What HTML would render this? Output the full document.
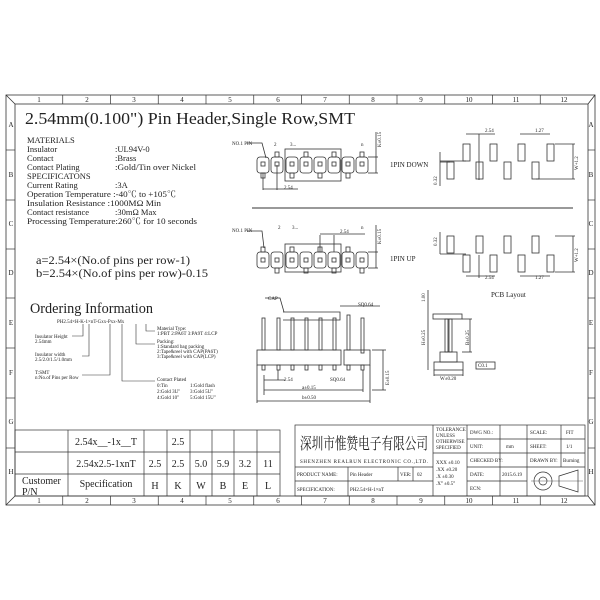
<!DOCTYPE html>
<html><head><meta charset="utf-8"><style>
html,body{margin:0;padding:0;background:#fff;}
svg{display:block;}
text{font-family:"Liberation Serif","Noto Serif CJK SC",serif;fill:#222;}
</style></head><body>
<svg width="600" height="600" viewBox="0 0 600 600" xmlns="http://www.w3.org/2000/svg">
<g fill="none" stroke="#333" stroke-width="0.8">
<rect x="6" y="95" width="589" height="410"/>
<rect x="15" y="104" width="573" height="392"/>
<line x1="6" y1="95" x2="15" y2="104"/><line x1="595" y1="95" x2="588" y2="104"/>
<line x1="6" y1="505" x2="15" y2="496"/><line x1="595" y1="505" x2="588" y2="496"/>
</g>
<g stroke="#333" stroke-width="0.7">
<line x1="62.75" y1="95" x2="62.75" y2="104"/><line x1="110.5" y1="95" x2="110.5" y2="104"/><line x1="158.25" y1="95" x2="158.25" y2="104"/><line x1="206" y1="95" x2="206" y2="104"/><line x1="253.75" y1="95" x2="253.75" y2="104"/><line x1="301.5" y1="95" x2="301.5" y2="104"/><line x1="349.25" y1="95" x2="349.25" y2="104"/><line x1="397" y1="95" x2="397" y2="104"/><line x1="444.75" y1="95" x2="444.75" y2="104"/><line x1="492.5" y1="95" x2="492.5" y2="104"/><line x1="540.25" y1="95" x2="540.25" y2="104"/>
<line x1="62.75" y1="496" x2="62.75" y2="505"/><line x1="110.5" y1="496" x2="110.5" y2="505"/><line x1="158.25" y1="496" x2="158.25" y2="505"/><line x1="206" y1="496" x2="206" y2="505"/><line x1="253.75" y1="496" x2="253.75" y2="505"/><line x1="301.5" y1="496" x2="301.5" y2="505"/><line x1="349.25" y1="496" x2="349.25" y2="505"/><line x1="397" y1="496" x2="397" y2="505"/><line x1="444.75" y1="496" x2="444.75" y2="505"/><line x1="492.5" y1="496" x2="492.5" y2="505"/><line x1="540.25" y1="496" x2="540.25" y2="505"/>
<line x1="6" y1="150" x2="15" y2="150"/><line x1="6" y1="200" x2="15" y2="200"/><line x1="6" y1="249" x2="15" y2="249"/><line x1="6" y1="298" x2="15" y2="298"/><line x1="6" y1="348" x2="15" y2="348"/><line x1="6" y1="398" x2="15" y2="398"/><line x1="6" y1="448" x2="15" y2="448"/>
<line x1="588" y1="150" x2="595" y2="150"/><line x1="588" y1="200" x2="595" y2="200"/><line x1="588" y1="249" x2="595" y2="249"/><line x1="588" y1="298" x2="595" y2="298"/><line x1="588" y1="348" x2="595" y2="348"/><line x1="588" y1="398" x2="595" y2="398"/><line x1="588" y1="448" x2="595" y2="448"/>
</g>
<g font-size="7" text-anchor="middle">
<text x="39" y="102">1</text><text x="87" y="102">2</text><text x="134" y="102">3</text><text x="182" y="102">4</text><text x="230" y="102">5</text><text x="278" y="102">6</text><text x="325" y="102">7</text><text x="373" y="102">8</text><text x="421" y="102">9</text><text x="469" y="102">10</text><text x="516" y="102">11</text><text x="564" y="102">12</text>
<text x="39" y="503">1</text><text x="87" y="503">2</text><text x="134" y="503">3</text><text x="182" y="503">4</text><text x="230" y="503">5</text><text x="278" y="503">6</text><text x="325" y="503">7</text><text x="373" y="503">8</text><text x="421" y="503">9</text><text x="469" y="503">10</text><text x="516" y="503">11</text><text x="564" y="503">12</text>
<text x="11" y="127">A</text><text x="11" y="177">B</text><text x="11" y="226">C</text><text x="11" y="275">D</text><text x="11" y="325">E</text><text x="11" y="375">F</text><text x="11" y="424">G</text><text x="11" y="474">H</text>
<text x="591" y="127">A</text><text x="591" y="177">B</text><text x="591" y="226">C</text><text x="591" y="275">D</text><text x="591" y="325">E</text><text x="591" y="375">F</text><text x="591" y="424">G</text><text x="591" y="474">H</text>
</g>
<text x="25" y="124" font-size="17" textLength="330" lengthAdjust="spacingAndGlyphs">2.54mm(0.100") Pin Header,Single Row,SMT</text>
<g font-size="8.5">
<text x="27" y="143">MATERIALS</text>
<text x="27" y="152">Insulator</text><text x="115" y="152">:UL94V-0</text>
<text x="27" y="161">Contact</text><text x="115" y="161">:Brass</text>
<text x="27" y="170">Contact Plating</text><text x="115" y="170" textLength="81" lengthAdjust="spacingAndGlyphs">:Gold/Tin over Nickel</text>
<text x="27" y="179">SPECIFICATONS</text>
<text x="27" y="188">Current Rating</text><text x="115" y="188">:3A</text>
<text x="27" y="197" textLength="149" lengthAdjust="spacingAndGlyphs">Operation Temperature :-40℃ to +105℃</text>
<text x="27" y="206" textLength="134" lengthAdjust="spacingAndGlyphs">Insulation Resistance :1000MΩ Min</text>
<text x="27" y="215">Contact resistance</text><text x="115" y="215">:30mΩ Max</text>
<text x="27" y="224" textLength="170" lengthAdjust="spacingAndGlyphs">Processing Temperature:260℃ for 10 seconds</text>
</g>
<text x="36" y="264" font-size="11.5" textLength="154" lengthAdjust="spacingAndGlyphs">a=2.54×(No.of pins per row-1)</text>
<text x="36" y="277" font-size="11.5" textLength="172" lengthAdjust="spacingAndGlyphs">b=2.54×(No.of pins per row)-0.15</text>
<text x="30" y="313" font-size="15" textLength="123" lengthAdjust="spacingAndGlyphs">Ordering Information</text>
<g font-size="5">
<text x="57" y="323">PH2.54×H-K-1×nT-Gxx-Pxx-Mx</text>
<text x="35" y="338">Insulator Height</text><text x="35" y="343">2.54mm</text>
<text x="35" y="356">Insulator width</text><text x="35" y="361">2.5/2.0/1.5/1.0mm</text>
<text x="35" y="374">T:SMT</text><text x="35" y="379">n:No.of Pins per Row</text>
<text x="157" y="330">Material Type:</text><text x="157" y="335">1:PBT 2:PA6T 3:PA9T 4:LCP</text>
<text x="157" y="343">Packing:</text><text x="157" y="348">1:Standard bag packing</text><text x="157" y="353">2:Tape&amp;reel with CAP(PA6T)</text><text x="157" y="358">3:Tape&amp;reel with CAP(LCP)</text>
<text x="157" y="381">Contact Plated</text><text x="157" y="387">0:Tin</text><text x="190" y="387">1:Gold flash</text><text x="157" y="393">2:Gold 3U"</text><text x="190" y="393">3:Gold 5U"</text><text x="157" y="399">4:Gold 10"</text><text x="190" y="399">5:Gold 15U"</text>
</g>
<g fill="none" stroke="#333" stroke-width="0.6">
<polyline points="72,336 83,336 83,324"/><polyline points="82,356 89,356 89,324"/><polyline points="82,375 110,375 110,324"/>
<polyline points="155,331 146,331 146,324"/><polyline points="155,344 136,344 136,324"/><polyline points="155,381 122,381 122,324"/>
</g>
<g fill="none" stroke="#333" stroke-width="0.7">
<rect x="15" y="430" width="265" height="66"/>
<line x1="15" y1="452" x2="280" y2="452"/><line x1="15" y1="474" x2="280" y2="474"/>
<line x1="68" y1="430" x2="68" y2="496"/><line x1="144" y1="430" x2="144" y2="496"/><line x1="167" y1="430" x2="167" y2="496"/><line x1="190" y1="430" x2="190" y2="496"/><line x1="212" y1="430" x2="212" y2="496"/><line x1="234" y1="430" x2="234" y2="496"/><line x1="257" y1="430" x2="257" y2="496"/>
</g>
<g font-size="10" text-anchor="middle">
<text x="106" y="445">2.54x__-1x__T</text><text x="178" y="445">2.5</text>
<text x="106" y="467">2.54x2.5-1xnT</text><text x="155" y="467">2.5</text><text x="178" y="467">2.5</text><text x="201" y="467">5.0</text><text x="223" y="467">5.9</text><text x="245" y="467">3.2</text><text x="268" y="467">11</text>
<text x="106" y="487">Specification</text><text x="155" y="489">H</text><text x="178" y="489">K</text><text x="201" y="489">W</text><text x="223" y="489">B</text><text x="245" y="489">E</text><text x="268" y="489">L</text>
</g>
<text x="22" y="484" font-size="10">Customer</text><text x="22" y="495" font-size="10">P/N</text>
<g fill="none" stroke="#333" stroke-width="0.7">
<rect x="295" y="425" width="290" height="71"/>
<line x1="295" y1="467" x2="433" y2="467"/><line x1="295" y1="481" x2="433" y2="481"/>
<line x1="348" y1="467" x2="348" y2="496"/><line x1="398" y1="467" x2="398" y2="481"/><line x1="413" y1="467" x2="413" y2="481"/>
<line x1="433" y1="425" x2="433" y2="496"/><line x1="467" y1="425" x2="467" y2="496"/><line x1="433" y1="453" x2="467" y2="453"/>
<line x1="500" y1="425" x2="500" y2="496"/><line x1="527" y1="425" x2="527" y2="496"/><line x1="561" y1="425" x2="561" y2="467"/>
<line x1="467" y1="439" x2="585" y2="439"/><line x1="467" y1="453" x2="585" y2="453"/><line x1="467" y1="467" x2="585" y2="467"/><line x1="467" y1="481" x2="527" y2="481"/>
<circle cx="543" cy="481" r="9"/><circle cx="543" cy="481" r="4"/>
<polygon points="559,476 578,470 578,492 559,486"/>
<line x1="531" y1="481" x2="583" y2="481" stroke-width="0.4"/>
</g>
<text x="300" y="449" font-size="16" font-family="Noto Serif CJK SC,serif" textLength="128" lengthAdjust="spacingAndGlyphs">深圳市惟赞电子有限公司</text>
<g font-size="5">
<text x="300" y="463" textLength="128">SHENZHEN REALRUN ELECTRONIC CO.,LTD.</text>
<text x="297" y="476">PRODUCT NAME:</text><text x="350" y="476">Pin Header</text><text x="400" y="476">VER:</text><text x="417" y="476">02</text>
<text x="297" y="491">SPECIFICATION:</text><text x="350" y="491">PH2.54×H-1×nT</text>
<text x="436" y="431">TOLERANCE</text><text x="436" y="437">UNLESS</text><text x="436" y="443">OTHERWISE</text><text x="436" y="449">SPECIFIED</text>
<text x="436" y="464">XXX ±0.10</text><text x="436" y="471">.XX  ±0.20</text><text x="436" y="478">.X   ±0.30</text><text x="436" y="485">.X°  ±0.5°</text>
<text x="470" y="434">DWG NO.:</text><text x="470" y="448">UNIT:</text><text x="506" y="448">mm</text><text x="470" y="462">CHECKED BY:</text>
<text x="470" y="476">DATE:</text><text x="502" y="476">2015.6.19</text><text x="470" y="490">ECN:</text>
<text x="530" y="434">SCALE:</text><text x="566" y="434">FIT</text><text x="530" y="448">SHEET:</text><text x="566" y="448">1/1</text><text x="530" y="462">DRAWN BY:</text><text x="563" y="462">Burning</text>
</g>
<line x1="252" y1="208" x2="573" y2="208" stroke="#333" stroke-width="1"/>
<g fill="none" stroke="#333" stroke-width="0.8">
<rect x="285" y="149" width="56" height="32"/>
<rect x="257" y="157" width="12" height="16" rx="3"/><rect x="271" y="157" width="12" height="16" rx="3"/><rect x="286" y="157" width="12" height="16" rx="3"/><rect x="300" y="157" width="12" height="16" rx="3"/><rect x="314" y="157" width="12" height="16" rx="3"/><rect x="328" y="157" width="12" height="16" rx="3"/><rect x="342" y="157" width="12" height="16" rx="3"/><rect x="356" y="157" width="12" height="16" rx="3"/>
<rect x="261" y="162" width="4" height="4"/><rect x="275" y="162" width="4" height="4"/><rect x="290" y="162" width="4" height="4"/><rect x="304" y="162" width="4" height="4"/><rect x="318" y="162" width="4" height="4"/><rect x="332" y="162" width="4" height="4"/><rect x="346" y="162" width="4" height="4"/><rect x="360" y="162" width="4" height="4"/>
<rect x="275" y="152" width="4" height="5"/><rect x="304" y="152" width="4" height="5"/><rect x="332" y="152" width="4" height="5"/><rect x="360" y="152" width="4" height="5"/>
<rect x="261" y="173" width="4" height="5"/><rect x="290" y="173" width="4" height="5"/><rect x="318" y="173" width="4" height="5"/><rect x="346" y="173" width="4" height="5"/>
<rect x="285" y="244" width="56" height="28"/>
<rect x="257" y="252" width="12" height="16" rx="3"/><rect x="271" y="252" width="12" height="16" rx="3"/><rect x="286" y="252" width="12" height="16" rx="3"/><rect x="300" y="252" width="12" height="16" rx="3"/><rect x="314" y="252" width="12" height="16" rx="3"/><rect x="328" y="252" width="12" height="16" rx="3"/><rect x="342" y="252" width="12" height="16" rx="3"/><rect x="356" y="252" width="12" height="16" rx="3"/>
<rect x="261" y="258" width="4" height="4"/><rect x="275" y="258" width="4" height="4"/><rect x="290" y="258" width="4" height="4"/><rect x="304" y="258" width="4" height="4"/><rect x="318" y="258" width="4" height="4"/><rect x="332" y="258" width="4" height="4"/><rect x="346" y="258" width="4" height="4"/><rect x="360" y="258" width="4" height="4"/>
<rect x="261" y="247" width="4" height="5"/><rect x="290" y="247" width="4" height="5"/><rect x="318" y="247" width="4" height="5"/><rect x="346" y="247" width="4" height="5"/>
<rect x="275" y="268" width="4" height="5"/><rect x="304" y="268" width="4" height="5"/><rect x="332" y="268" width="4" height="5"/><rect x="360" y="268" width="4" height="5"/>
<polyline points="368,157 378,157"/><polyline points="368,173 378,173"/><line x1="376" y1="132" x2="376" y2="173"/>
<line x1="263" y1="173" x2="263" y2="190"/><line x1="277" y1="165" x2="277" y2="190"/><line x1="263" y1="189" x2="298" y2="189"/>
<polyline points="368,252 378,252"/><polyline points="368,268 378,268"/><line x1="376" y1="225" x2="376" y2="268"/>
<line x1="320" y1="235" x2="320" y2="252"/><line x1="334" y1="235" x2="334" y2="252"/><line x1="320" y1="234" x2="365" y2="234"/>
<polyline points="247,143 262,143 266,158"/><polyline points="247,231 262,231 264,248"/>
</g>
<g font-size="5">
<text x="232" y="145">NO.1 PIN</text><text x="274" y="146">2</text><text x="290" y="146">3...</text><text x="361" y="146">n</text>
<text x="284" y="189">2.54</text>
<text x="232" y="232">NO.1 PIN</text><text x="278" y="229">2</text><text x="292" y="229">3...</text><text x="361" y="229">n</text>
<text x="340" y="233">2.54</text>
<text x="381" y="147" transform="rotate(-90 381 147)">K±0.15</text>
<text x="381" y="244" transform="rotate(-90 381 244)">K±0.15</text>
</g>
<text x="390" y="167" font-size="7">1PIN DOWN</text>
<text x="390" y="261" font-size="7">1PIN UP</text>
<g fill="none" stroke="#333" stroke-width="0.8">
<rect x="463" y="144" width="7" height="17"/><rect x="490" y="144" width="7" height="17"/><rect x="518" y="144" width="7" height="17"/><rect x="547" y="144" width="7" height="17"/>
<rect x="447" y="162" width="7" height="17"/><rect x="476" y="162" width="7" height="17"/><rect x="504" y="162" width="7" height="17"/><rect x="532" y="162" width="7" height="17"/>
<rect x="447" y="236" width="7" height="17"/><rect x="476" y="236" width="7" height="17"/><rect x="504" y="236" width="7" height="17"/><rect x="532" y="236" width="7" height="17"/>
<rect x="463" y="255" width="7" height="17"/><rect x="490" y="255" width="7" height="17"/><rect x="518" y="255" width="7" height="17"/><rect x="547" y="255" width="7" height="17"/>
<line x1="466" y1="134" x2="495" y2="134"/><line x1="479" y1="134" x2="479" y2="180"/>
<line x1="520" y1="134" x2="550" y2="134"/>
<line x1="440" y1="161" x2="466" y2="161"/><line x1="440" y1="162" x2="450" y2="162"/><line x1="440" y1="152" x2="440" y2="186"/>
<line x1="555" y1="144" x2="575" y2="144"/><line x1="536" y1="179" x2="575" y2="179"/><line x1="573" y1="144" x2="573" y2="179"/>
<line x1="440" y1="254" x2="466" y2="254"/><line x1="440" y1="232" x2="440" y2="254"/>
<line x1="555" y1="236" x2="575" y2="236"/><line x1="555" y1="272" x2="575" y2="272"/><line x1="573" y1="236" x2="573" y2="272"/>
<line x1="466" y1="276" x2="495" y2="276"/><line x1="479" y1="255" x2="479" y2="278"/>
<line x1="520" y1="276" x2="550" y2="276"/>
</g>
<g font-size="5">
<text x="485" y="132">2.54</text><text x="535" y="132">1.27</text>
<text x="437" y="185" transform="rotate(-90 437 185)">0.32</text>
<text x="578" y="170" transform="rotate(-90 578 170)">W+1.2</text>
<text x="437" y="246" transform="rotate(-90 437 246)">0.32</text>
<text x="578" y="262" transform="rotate(-90 578 262)">W+1.2</text>
<text x="485" y="279">2.54</text><text x="535" y="279">1.27</text>
</g>
<text x="491" y="297" font-size="7">PCB Layout</text>
<g fill="none" stroke="#333" stroke-width="0.8">
<polyline points="283,312 340,312 340,320 283,320"/>
<rect x="257" y="350" width="84" height="15"/><rect x="344" y="350" width="26" height="15"/>
<rect x="262" y="318" width="3" height="32"/><rect x="277" y="318" width="3" height="32"/><rect x="291" y="318" width="3" height="32"/><rect x="305" y="318" width="3" height="32"/><rect x="319" y="318" width="3" height="32"/><rect x="333" y="318" width="3" height="32"/><rect x="347" y="315" width="3" height="35"/><rect x="361" y="318" width="3" height="35"/>
<rect x="262" y="365" width="3" height="5"/><rect x="277" y="365" width="3" height="5"/><rect x="291" y="365" width="3" height="5"/><rect x="305" y="365" width="3" height="5"/><rect x="319" y="365" width="3" height="5"/><rect x="333" y="365" width="3" height="5"/><rect x="347" y="365" width="3" height="5"/><rect x="361" y="365" width="3" height="5"/>
<line x1="264" y1="375" x2="264" y2="395"/><line x1="278" y1="370" x2="278" y2="380"/><line x1="264" y1="380" x2="285" y2="380"/>
<line x1="264" y1="390" x2="363" y2="390"/><line x1="363" y1="370" x2="363" y2="392"/>
<line x1="257" y1="365" x2="257" y2="403"/><line x1="370" y1="365" x2="370" y2="403"/><line x1="257" y1="401" x2="370" y2="401"/>
<line x1="372" y1="350" x2="386" y2="350"/><line x1="372" y1="390" x2="386" y2="390"/><line x1="383" y1="350" x2="383" y2="390"/>
<line x1="340" y1="306" x2="380" y2="306"/><polyline points="265,298 280,298 284,312"/>
<rect x="433" y="314" width="29" height="5"/>
<rect x="445" y="319" width="3" height="33"/><rect x="449" y="319" width="3" height="33"/>
<rect x="440" y="352" width="17" height="10"/><rect x="434" y="362" width="29" height="8"/>
<line x1="428" y1="314" x2="428" y2="370"/><line x1="428" y1="290" x2="428" y2="314"/>
<line x1="462" y1="319" x2="472" y2="319"/><line x1="462" y1="352" x2="472" y2="352"/><line x1="470" y1="319" x2="470" y2="352"/>
<line x1="434" y1="370" x2="434" y2="376"/><line x1="463" y1="370" x2="463" y2="376"/><line x1="434" y1="375" x2="463" y2="375"/>
<rect x="476" y="362" width="19" height="7"/>
</g>
<g font-size="5">
<text x="268" y="300">CAP</text><text x="358" y="306">SQ0.64</text>
<text x="284" y="381">2.54</text><text x="330" y="381">SQ0.64</text>
<text x="302" y="389">a±0.15</text><text x="302" y="399">b±0.50</text>
<text x="389" y="385" transform="rotate(-90 389 385)">E±0.15</text>
<text x="425" y="302" transform="rotate(-90 425 302)">1.00</text>
<text x="425" y="345" transform="rotate(-90 425 345)">H±0.25</text>
<text x="469" y="345" transform="rotate(-90 469 345)">B±0.25</text>
<text x="440" y="380">W±0.20</text><text x="478" y="367">C0.1</text>
</g>
</svg>
</body></html>
